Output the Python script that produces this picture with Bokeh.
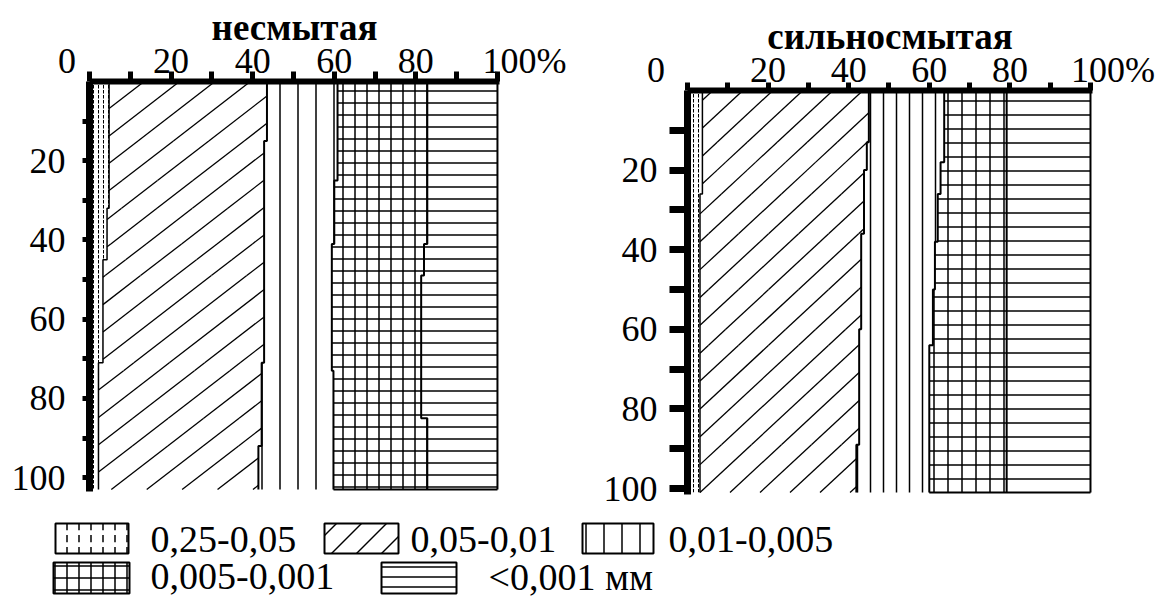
import numpy as np
from bokeh.plotting import figure
from bokeh.models import Range1d, FixedTicker, Spacer
from bokeh.layouts import row, column
from bokeh.embed import file_html
from bokeh.resources import INLINE
from bokeh.core.properties import value

# ---------------- data ----------------
legend_labels = ["0,25-0,05", "0,05-0,01", "0,01-0,005", "0,005-0,001", "<0,001 мм"]
panel_titles = ["несмытая", "сильносмытая"]
x_ticks = [0, 10, 20, 30, 40, 50, 60, 70, 80, 90, 100]
x_labels = {0: "0", 20: "20", 40: "40", 60: "60", 80: "80", 100: "100%"}
y_ticks = [10, 20, 30, 40, 50, 60, 70, 80, 90, 100]
y_labels = {20: "20", 40: "40", 60: "60", 80: "80", 100: "100"}

# несмытая: layer top depths (cm) and fraction contents (%)
depth_top_1 = [0, 15, 25, 32, 41, 45, 49, 71, 73, 85, 92]
depth_max_1 = 103
sand_1 = [4.8, 4.8, 4.8, 4.3, 4.3, 3.3, 3.3, 2.2, 2.2, 2.2, 2.2]
coarse_silt_1 = [38.7, 38.0, 38.0, 38.5, 38.5, 39.5, 39.5, 40.0, 40.0, 40.0, 39.2]
medium_silt_1 = [17.3, 18.0, 17.2, 17.2, 16.6, 16.6, 16.6, 17.2, 17.6, 17.6, 18.4]
fine_silt_1 = [22.0, 22.0, 22.8, 22.8, 22.6, 22.6, 21.9, 21.9, 21.5, 23.0, 23.0]
clay_1 = [17.2, 17.2, 17.2, 17.2, 18.0, 18.0, 18.7, 18.7, 18.7, 17.2, 17.2]

# сильносмытая
depth_top_2 = [0, 13, 18, 20, 26, 36, 38, 50, 60, 64, 89]
depth_max_2 = 101
sand_2 = [3.7, 3.7, 3.7, 3.7, 3.1, 3.1, 3.1, 3.1, 3.1, 3.1, 3.1]
coarse_silt_2 = [41.3, 40.8, 40.8, 40.1, 40.7, 40.0, 40.0, 40.0, 39.5, 39.5, 38.8]
medium_silt_2 = [18.7, 19.2, 18.3, 19.0, 18.3, 19.0, 18.3, 17.8, 18.3, 17.4, 18.1]
fine_silt_2 = [15.5, 15.5, 16.4, 16.4, 17.1, 17.1, 17.8, 18.3, 18.3, 19.2, 19.2]
clay_2 = [20.8, 20.8, 20.8, 20.8, 20.8, 20.8, 20.8, 20.8, 20.8, 20.8, 20.8]

FONT = "Liberation Serif"
NB = "\u00a0"
patterns = [":", None, "|", "+", "-"]


def steps(tops, dmax, vals):
    bottoms = list(tops[1:]) + [dmax]
    ys, xs = [], []
    for t, b, v in zip(tops, bottoms, vals):
        ys += [t, b]
        xs += [v, v]
    return np.array(xs), np.array(ys)


def diag_hatch(tops, dmax, lefts, rights, m, spacing, phase):
    """Diagonal hatch lines d = c - m*x, clipped to the stepped band."""
    bottoms = list(tops[1:]) + [dmax]
    c_lo = tops[0] + m * min(lefts)
    c_hi = dmax + m * max(rights)
    x0, y0, x1, y1 = [], [], [], []
    for c in np.arange(c_lo + phase, c_hi, spacing):
        for t, b, L, R in zip(tops, bottoms, lefts, rights):
            xa = max(L, (c - b) / m)
            xb = min(R, (c - t) / m)
            if xb > xa:
                x0.append(xa); y0.append(c - m * xa)
                x1.append(xb); y1.append(c - m * xb)
    return x0, y0, x1, y1


def make_panel(title, tops, dmax, fracs, g):
    p = figure(width=g["width"], height=g["height"], output_backend="svg", toolbar_location=None,
               x_range=Range1d(0, 100.5), y_range=Range1d(g["ymax"], 0),
               x_axis_location="above", y_axis_location="left",
               min_border_left=g["mbl"], min_border_right=g["mbr"],
               min_border_top=g["mbt"], min_border_bottom=g["mbb"],
               background_fill_color="white", border_fill_color="white")
    p.outline_line_color = None
    p.grid.visible = False

    cum = np.cumsum(np.array(fracs, dtype=float), axis=0)
    _, ys = steps(tops, dmax, fracs[0])
    prev = np.zeros(len(ys))
    for k in range(5):
        right, _ = steps(tops, dmax, cum[k])
        if patterns[k] is not None:
            p.harea(x1=prev, x2=right, y=ys, fill_color="white",
                    hatch_pattern=patterns[k], hatch_scale=g["scales"][k],
                    hatch_weight=g["weights"][k], hatch_color="black")
        prev = right
    # diagonal hatching of the 0,05-0,01 fraction
    x0, y0, x1, y1 = diag_hatch(tops, dmax, list(cum[0]), list(cum[1]),
                                g["slope"], g["spacing"], g["phase"])
    p.segment(x0=x0, y0=y0, x1=x1, y1=y1, line_color="black", line_width=1.3)
    for k in range(5):
        bx, by = steps(tops, dmax, cum[k])
        p.line(bx, by, line_color="black", line_width=2 if k else 1.5)
    # bottom edge of the fine fractions
    p.line([cum[2][-1], cum[4][-1]], [dmax, dmax], line_color="black", line_width=2)

    xa = p.xaxis[0]
    xa.ticker = FixedTicker(ticks=x_ticks)
    ov = {t: x_labels.get(t, "") for t in x_ticks}
    ov[0] = ov[0] + NB * g["pad0"]
    ov[100] = NB * g["pad100"] + ov[100]
    xa.major_label_overrides = ov
    xa.axis_line_width = 6
    xa.major_tick_line_width = 5
    xa.major_tick_out = g["xtick"]
    xa.major_tick_in = 0
    xa.minor_tick_line_color = None
    xa.major_label_text_font = FONT
    xa.major_label_text_font_size = "36px"
    xa.major_label_text_color = "black"
    xa.major_label_standoff = g["xstand"]
    xa.axis_label = title
    xa.axis_label_text_font = FONT
    xa.axis_label_text_font_size = "37px"
    xa.axis_label_text_font_style = "bold"
    xa.axis_label_text_color = "black"
    xa.axis_label_standoff = g["tstand"]

    ya = p.yaxis[0]
    ya.ticker = FixedTicker(ticks=y_ticks)
    ya.major_label_overrides = {t: y_labels.get(t, "") for t in y_ticks}
    ya.axis_line_width = 7
    ya.major_tick_line_width = g["ytickw"]
    ya.major_tick_out = g["ytick"]
    ya.major_tick_in = 0
    ya.minor_tick_line_color = None
    ya.major_label_text_font = FONT
    ya.major_label_text_font_size = "36px"
    ya.major_label_text_color = "black"
    ya.major_label_standoff = g["ystand"]
    return p


g1 = dict(width=590, height=500, ymax=103.5, mbl=89, mbr=91, mbt=81, mbb=9,
          scales=[5, 0, 18, 12, 12], weights=[1, 0, 1.5, 1.5, 1.5],
          slope=0.795, spacing=6.9, phase=2.0,
          xtick=10, xstand=-9, tstand=-10, ytick=7, ytickw=5, ystand=17, pad0=5, pad100=6)
g2 = dict(width=570, height=502, ymax=101.5, mbl=97, mbr=68, mbt=81, mbb=17,
          scales=[5, 0, 13, 14, 14], weights=[1, 0, 1.5, 1.5, 1.5],
          slope=0.94, spacing=7.0, phase=3.0,
          xtick=8, xstand=-7, tstand=-10, ytick=18, ytickw=7, ystand=12, pad0=7, pad100=5)

p1 = make_panel(panel_titles[0], depth_top_1, depth_max_1,
                [sand_1, coarse_silt_1, medium_silt_1, fine_silt_1, clay_1], g1)
p2 = make_panel(panel_titles[1], depth_top_2, depth_max_2,
                [sand_2, coarse_silt_2, medium_silt_2, fine_silt_2, clay_2], g2)

# ---------------- legend ----------------
pl = figure(width=1160, height=87, output_backend="svg", toolbar_location=None,
            x_range=Range1d(0, 1160), y_range=Range1d(598, 511),
            x_axis_location=None, y_axis_location=None,
            min_border_left=0, min_border_right=0, min_border_top=0, min_border_bottom=0,
            background_fill_color="white", border_fill_color="white")
pl.outline_line_color = None
pl.grid.visible = False

box_left = [55, 324, 582, 53, 381]
box_right = [128, 398, 653, 129, 456]
box_top = [523, 523, 523, 562, 562]
box_bottom = [553, 553, 553, 593, 593]
leg_scales = [12, 0, 18, 12, 10]
text_x = [150, 410, 668, 150, 488]
text_y = [539, 539, 539, 576, 576]
for k in range(5):
    kw = dict(hatch_pattern=patterns[k], hatch_scale=leg_scales[k], hatch_weight=1.5,
              hatch_color="black") if patterns[k] is not None else {}
    pl.quad(left=[box_left[k]], right=[box_right[k]], top=[box_top[k]], bottom=[box_bottom[k]],
            fill_color="white", line_color="black", line_width=2, **kw)
lx0, ly0, lx1, ly1 = diag_hatch([box_top[1]], box_bottom[1], [box_left[1]], [box_right[1]],
                                1.0, 25, 12)
pl.segment(x0=lx0, y0=ly0, x1=lx1, y1=ly1, line_color="black", line_width=1.5)
pl.text(x=text_x, y=text_y, text=legend_labels, text_font=value(FONT),
        text_font_size="38px", text_baseline="middle", text_align="left", text_color="black")

layout = column(row(p1, column(Spacer(height=9), p2)), pl)
open("out.html", "w").write(file_html(layout, INLINE))
